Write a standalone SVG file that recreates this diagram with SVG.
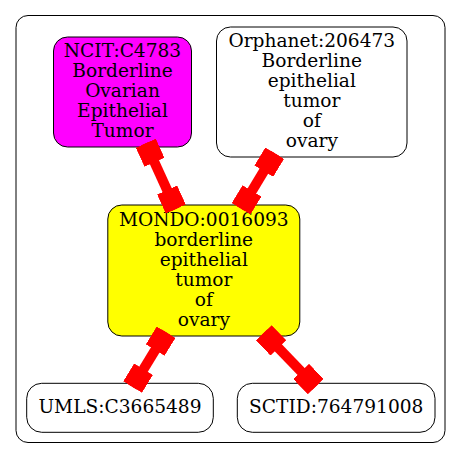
<svg xmlns="http://www.w3.org/2000/svg" width="461" height="459" viewBox="0 0 461 459">
<style>
  .node { stroke: #000; stroke-width: 1; }
  .lbl { font-family: "DejaVu Serif", serif; font-size: 18.6px; text-anchor: middle; fill: #000; }
  .edge { stroke: #ff0000; stroke-width: 10; fill: none; marker-start: url(#box); marker-end: url(#box); }
</style>
<defs>
  <marker id="box" markerUnits="userSpaceOnUse" viewBox="-21 -11 21 22" refX="0" refY="0" markerWidth="21" markerHeight="22" orient="auto-start-reverse">
    <rect x="-21" y="-11" width="21" height="22" fill="#ff0000"/>
  </marker>
</defs>
<rect x="16" y="15.5" width="429" height="427" rx="12" ry="12" fill="#fff" stroke="#000" stroke-width="1"/>
<g id="NCIT_C4783">
  <rect class="node" x="53.5" y="37" width="138" height="110" rx="14" ry="14" fill="#ff00ff"/>
  <text class="lbl" x="122.5" y="57">NCIT:C4783</text>
  <text class="lbl" x="122.5" y="77">Borderline</text>
  <text class="lbl" x="122.5" y="97">Ovarian</text>
  <text class="lbl" x="122.5" y="117">Epithelial</text>
  <text class="lbl" x="122.5" y="137">Tumor</text>
</g>
<g id="Orphanet_206473">
  <rect class="node" x="216.5" y="27" width="190.5" height="130" rx="14" ry="14" fill="#fff"/>
  <text class="lbl" x="311.8" y="47">Orphanet:206473</text>
  <text class="lbl" x="311.8" y="67">Borderline</text>
  <text class="lbl" x="311.8" y="87">epithelial</text>
  <text class="lbl" x="311.8" y="107">tumor</text>
  <text class="lbl" x="311.8" y="127">of</text>
  <text class="lbl" x="311.8" y="147">ovary</text>
</g>
<g id="MONDO_0016093">
  <rect class="node" x="107.8" y="205" width="192" height="131" rx="14" ry="14" fill="#ffff00"/>
  <text class="lbl" x="203.8" y="226">MONDO:0016093</text>
  <text class="lbl" x="203.8" y="246">borderline</text>
  <text class="lbl" x="203.8" y="266">epithelial</text>
  <text class="lbl" x="203.8" y="286">tumor</text>
  <text class="lbl" x="203.8" y="306">of</text>
  <text class="lbl" x="203.8" y="326">ovary</text>
</g>
<g id="UMLS_C3665489">
  <rect class="node" x="26.7" y="383.3" width="186.6" height="49" rx="15" ry="15" fill="#fff"/>
  <text class="lbl" x="120" y="413">UMLS:C3665489</text>
</g>
<g id="SCTID_764791008">
  <rect class="node" x="237.3" y="383.3" width="197.7" height="49" rx="15" ry="15" fill="#fff"/>
  <text class="lbl" x="336.2" y="413">SCTID:764791008</text>
</g>
<g id="edges">
  <path class="edge" d="M145.8,143.2 L175.8,209.1"/>
  <path class="edge" d="M274.7,153.2 L241.1,208.8"/>
  <path class="edge" d="M166.1,332.2 L132.6,387.1"/>
  <path class="edge" d="M263.8,332.8 L315.7,386.6"/>
</g>
</svg>
